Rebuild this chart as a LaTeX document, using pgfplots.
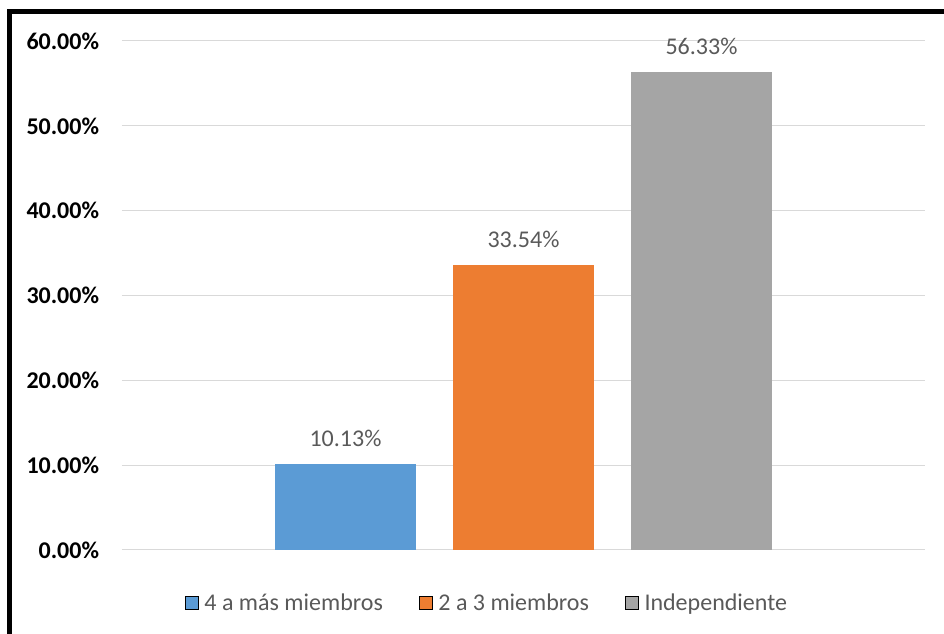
\documentclass[border=0pt]{standalone}
\usepackage{fontspec}
\setmainfont{Carlito}
\usepackage{pgfplots}
\pgfplotsset{compat=1.18}
\definecolor{cblue}{HTML}{5B9BD5}
\definecolor{corange}{HTML}{ED7D31}
\definecolor{cgray}{HTML}{A5A5A5}
\definecolor{gridgray}{HTML}{D9D9D9}
\definecolor{labelgray}{HTML}{595959}
\begin{document}
\begin{tikzpicture}
\path[use as bounding box] (-91.5pt,-63pt) rectangle (616.5pt,412.5pt);
\begin{axis}[
  scale only axis, width=602.25pt, height=381.75pt,
  xmin=-2.2556, xmax=2.2556, ymin=0, ymax=60,
  ybar, bar width=0.7921, bar shift=0pt,
  axis line style={draw=none},
  xtick=\empty,
  ytick={0,10,20,30,40,50,60},
  major tick length=0pt,
  ymajorgrids, grid style={color=gridgray, line width=0.75pt},
  /pgf/number format/assume math mode=true,
  yticklabel={\pgfmathprintnumber[fixed,fixed zerofill,precision=2]{\tick}\%},
  yticklabel style={font=\fontsize{18}{20}\selectfont\bfseries, text=black, inner sep=0pt, anchor=east, xshift=-17pt},
  nodes near coords={\pgfmathprintnumber[fixed,fixed zerofill,precision=2]{\pgfplotspointmeta}\%},
  nodes near coords style={font=\fontsize{18}{20}\selectfont, text=labelgray, inner sep=0pt, anchor=south, yshift=12.75pt},
  legend image code/.code={\draw[#1] (0pt,-4.875pt) rectangle (9.75pt,4.875pt);},
  legend style={at={(0.4533,-0.1041)}, anchor=center, draw=none, fill=none,
    font=\fontsize{18}{20}\selectfont, text=labelgray, legend columns=3,
    nodes={inner sep=0pt},
    /tikz/every odd column/.style={column sep=4.5pt},
    /tikz/every even column/.style={column sep=27pt}},
]
\addplot[fill=cblue, draw=none] coordinates {(-1,10.13)};
\addlegendentry{4 a más miembros}
\addplot[fill=corange, draw=none] coordinates {(0,33.54)};
\addlegendentry{2 a 3 miembros}
\addplot[fill=cgray, draw=none] coordinates {(1,56.33)};
\addlegendentry{Independiente}
\end{axis}
\draw[line width=3.75pt, line join=miter] (-84.2pt,-70pt) -- (-84.2pt,403.5pt) -- (625pt,403.5pt);
\end{tikzpicture}
\end{document}
